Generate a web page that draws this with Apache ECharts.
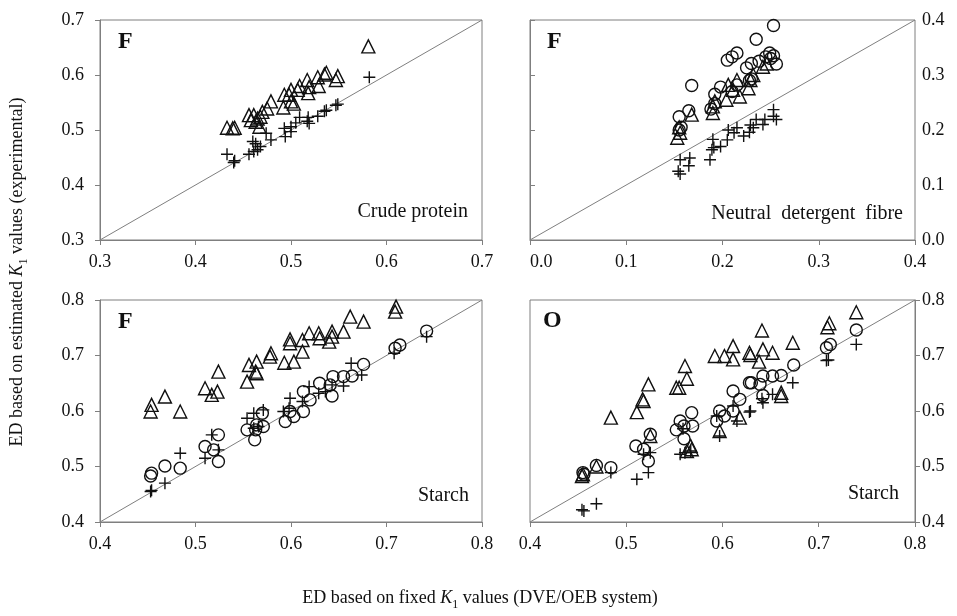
<!DOCTYPE html>
<html>
<head>
<meta charset="utf-8">
<script src="https://cdn.jsdelivr.net/npm/echarts@6/dist/echarts.min.js"></script>
<style>
  html, body { margin: 0; padding: 0; background: #fff; }
  #main { width: 957px; height: 616px; }
</style>
</head>
<body>
<div id="main"></div>
<script>
// axis ranges [min, max, interval]
var cpRange = [0.3, 0.7, 0.1];
var ndfRange = [0.0, 0.4, 0.1];
var starchRange = [0.4, 0.8, 0.1];

// Crude protein (F)
var cpTriangle = [
  [0.581, 0.652], [0.537, 0.604], [0.535, 0.601], [0.549, 0.598], [0.547, 0.591],
  [0.528, 0.596], [0.529, 0.580], [0.517, 0.591], [0.519, 0.578], [0.518, 0.567],
  [0.509, 0.580], [0.507, 0.573], [0.500, 0.573], [0.498, 0.564], [0.493, 0.564],
  [0.492, 0.541], [0.500, 0.552], [0.503, 0.548], [0.479, 0.552], [0.475, 0.539],
  [0.470, 0.533], [0.456, 0.527], [0.461, 0.527], [0.465, 0.521], [0.458, 0.518],
  [0.467, 0.506], [0.433, 0.504], [0.441, 0.504], [0.439, 0.503], [0.463, 0.515],
  [0.468, 0.524]
];
var cpPlus = [
  [0.582, 0.596], [0.549, 0.547], [0.547, 0.545], [0.537, 0.536], [0.535, 0.534],
  [0.528, 0.525], [0.518, 0.523], [0.519, 0.512], [0.517, 0.516], [0.509, 0.523],
  [0.505, 0.513], [0.500, 0.506], [0.493, 0.503], [0.500, 0.497], [0.494, 0.488],
  [0.479, 0.482], [0.474, 0.494], [0.468, 0.470], [0.461, 0.461], [0.456, 0.456],
  [0.465, 0.464], [0.460, 0.479], [0.463, 0.475], [0.433, 0.456], [0.440, 0.441],
  [0.441, 0.444]
];

// Neutral detergent fibre (F)
var ndfCircle = [
  [0.253, 0.390], [0.235, 0.365], [0.205, 0.327], [0.210, 0.333], [0.215, 0.340],
  [0.168, 0.281], [0.198, 0.278], [0.192, 0.265], [0.188, 0.238], [0.165, 0.235],
  [0.155, 0.224], [0.157, 0.205], [0.155, 0.200], [0.225, 0.313], [0.230, 0.321],
  [0.238, 0.325], [0.245, 0.333], [0.249, 0.340], [0.253, 0.335], [0.256, 0.320],
  [0.250, 0.330], [0.230, 0.293], [0.228, 0.290], [0.210, 0.270], [0.215, 0.282],
  [0.192, 0.248]
];
var ndfTriangle = [
  [0.153, 0.186], [0.156, 0.195], [0.168, 0.228], [0.190, 0.231], [0.190, 0.243],
  [0.204, 0.255], [0.215, 0.291], [0.218, 0.261], [0.211, 0.273], [0.227, 0.276],
  [0.229, 0.291], [0.242, 0.315], [0.246, 0.321], [0.206, 0.282], [0.155, 0.205],
  [0.192, 0.252], [0.232, 0.300]
];
var ndfPlus = [
  [0.253, 0.237], [0.253, 0.225], [0.256, 0.219], [0.244, 0.219], [0.242, 0.210],
  [0.235, 0.219], [0.232, 0.204], [0.229, 0.209], [0.222, 0.189], [0.215, 0.204],
  [0.212, 0.195], [0.206, 0.200], [0.205, 0.182], [0.198, 0.170], [0.190, 0.183],
  [0.189, 0.164], [0.187, 0.146], [0.166, 0.149], [0.165, 0.135], [0.156, 0.146],
  [0.154, 0.125], [0.156, 0.120], [0.191, 0.168], [0.228, 0.196]
];

// Starch (F)
var stFCircle = [
  [0.742, 0.744], [0.714, 0.719], [0.709, 0.713], [0.676, 0.684], [0.664, 0.663],
  [0.655, 0.662], [0.644, 0.662], [0.643, 0.627], [0.641, 0.647], [0.630, 0.650],
  [0.620, 0.620], [0.613, 0.635], [0.613, 0.599], [0.603, 0.590], [0.599, 0.599],
  [0.594, 0.581], [0.570, 0.596], [0.571, 0.572], [0.564, 0.575], [0.563, 0.566],
  [0.554, 0.566], [0.562, 0.548], [0.524, 0.557], [0.524, 0.509], [0.519, 0.530],
  [0.510, 0.536], [0.484, 0.497], [0.468, 0.501], [0.454, 0.488], [0.453, 0.483]
];
var stFTriangle = [
  [0.710, 0.788], [0.709, 0.779], [0.662, 0.770], [0.676, 0.761], [0.655, 0.743],
  [0.643, 0.743], [0.643, 0.734], [0.640, 0.725], [0.629, 0.740], [0.630, 0.731],
  [0.619, 0.740], [0.612, 0.728], [0.612, 0.707], [0.599, 0.729], [0.599, 0.722],
  [0.603, 0.689], [0.593, 0.687], [0.579, 0.704], [0.578, 0.698], [0.564, 0.689],
  [0.556, 0.683], [0.563, 0.671], [0.564, 0.668], [0.554, 0.653], [0.524, 0.671],
  [0.510, 0.641], [0.517, 0.629], [0.523, 0.635], [0.468, 0.626], [0.454, 0.611],
  [0.453, 0.599], [0.484, 0.599]
];
var stFPlus = [
  [0.742, 0.734], [0.708, 0.704], [0.674, 0.665], [0.663, 0.686], [0.655, 0.645],
  [0.643, 0.647], [0.636, 0.635], [0.629, 0.632], [0.619, 0.644], [0.612, 0.617],
  [0.599, 0.623], [0.598, 0.605], [0.592, 0.599], [0.571, 0.602], [0.561, 0.596],
  [0.554, 0.587], [0.561, 0.569], [0.566, 0.572], [0.517, 0.557], [0.524, 0.530],
  [0.510, 0.515], [0.484, 0.524], [0.468, 0.470], [0.453, 0.455], [0.454, 0.457]
];

// Starch (O)
var stOCircle = [
  [0.739, 0.746], [0.712, 0.720], [0.708, 0.714], [0.674, 0.683], [0.661, 0.664],
  [0.652, 0.663], [0.642, 0.663], [0.639, 0.648], [0.642, 0.628], [0.628, 0.651],
  [0.630, 0.651], [0.618, 0.621], [0.611, 0.636], [0.611, 0.600], [0.597, 0.600],
  [0.602, 0.591], [0.594, 0.582], [0.568, 0.597], [0.569, 0.573], [0.560, 0.573],
  [0.556, 0.582], [0.552, 0.566], [0.560, 0.550], [0.525, 0.558], [0.523, 0.510],
  [0.518, 0.531], [0.510, 0.537], [0.484, 0.498], [0.469, 0.502], [0.455, 0.489],
  [0.456, 0.486]
];
var stOTriangle = [
  [0.739, 0.778], [0.711, 0.758], [0.709, 0.751], [0.673, 0.723], [0.652, 0.705],
  [0.642, 0.711], [0.641, 0.745], [0.638, 0.689], [0.628, 0.705], [0.629, 0.701],
  [0.611, 0.717], [0.611, 0.693], [0.602, 0.699], [0.592, 0.699], [0.561, 0.681],
  [0.563, 0.658], [0.555, 0.642], [0.552, 0.642], [0.523, 0.648], [0.517, 0.621],
  [0.518, 0.618], [0.511, 0.598], [0.484, 0.588], [0.661, 0.633], [0.661, 0.627],
  [0.618, 0.588], [0.597, 0.564], [0.567, 0.537], [0.568, 0.531], [0.563, 0.528],
  [0.525, 0.555], [0.469, 0.500], [0.455, 0.486], [0.454, 0.483]
];
var stOPlus = [
  [0.739, 0.720], [0.710, 0.692], [0.708, 0.691], [0.673, 0.651], [0.652, 0.630],
  [0.642, 0.615], [0.641, 0.622], [0.628, 0.598], [0.629, 0.600], [0.615, 0.582],
  [0.611, 0.609], [0.597, 0.555], [0.594, 0.591], [0.567, 0.528], [0.561, 0.525],
  [0.556, 0.522], [0.559, 0.568], [0.525, 0.525], [0.518, 0.522], [0.523, 0.489],
  [0.511, 0.477], [0.484, 0.489], [0.469, 0.433], [0.454, 0.422], [0.456, 0.420]
];

var serif = "'Liberation Serif', 'Times New Roman', serif";
var axisGray = '#7f7f7f';

var myChart = echarts.init(document.getElementById('main'));

var grids = [
  { left: 100, top: 20, width: 382, height: 220 },
  { left: 530, top: 20, width: 385, height: 220 },
  { left: 100, top: 300, width: 382, height: 222 },
  { left: 530, top: 300, width: 385, height: 222 }
];
var ranges = [cpRange, ndfRange, starchRange, starchRange];

function makeAxis(i, dim) {
  var r = ranges[i];
  var ax = {
    type: 'value',
    gridIndex: i,
    min: r[0],
    max: r[1],
    interval: r[2],
    axisLine: { show: true, lineStyle: { color: axisGray, width: 1 } },
    axisTick: { show: true, length: 5, lineStyle: { color: axisGray } },
    splitLine: { show: false },
    axisLabel: {
      color: '#111',
      fontFamily: serif,
      fontSize: 18,
      formatter: function (v) { return v.toFixed(1); }
    }
  };
  if (dim === 'x') {
    ax.axisLabel.margin = 13;
    // the first label of the fibre panel sits right of its tick
    if (i === 1) ax.axisLabel.alignMinLabel = 'left';
  } else {
    ax.position = (i % 2 === 1) ? 'right' : 'left';
    ax.axisLabel.margin = (i % 2 === 1) ? 7 : 16;
  }
  return ax;
}

var sym = {
  triangle: { symbol: 'triangle', symbolSize: 13 },
  circle: { symbol: 'circle', symbolSize: 12 },
  plus: { symbol: 'path://M5,0V10M0,5H10', symbolSize: 12 }
};

function scatter(i, data, kind) {
  return {
    type: 'scatter',
    xAxisIndex: i,
    yAxisIndex: i,
    data: data,
    symbol: sym[kind].symbol,
    symbolSize: sym[kind].symbolSize,
    silent: true,
    itemStyle: { color: 'transparent', borderColor: '#111', borderWidth: 1.4, opacity: 1 }
  };
}

function diagonal(i) {
  var r = ranges[i];
  return {
    type: 'line',
    xAxisIndex: i,
    yAxisIndex: i,
    data: [[r[0], r[0]], [r[1], r[1]]],
    symbol: 'none',
    silent: true,
    lineStyle: { color: axisGray, width: 1 },
    z: 1
  };
}

function label(x, y, text, opts) {
  return {
    type: 'text',
    x: x,
    y: y,
    silent: true,
    style: Object.assign({
      text: text,
      fill: '#111',
      fontFamily: serif,
      fontSize: 20,
      verticalAlign: 'middle'
    }, opts || {})
  };
}

var titleRich = {
  n: { fontFamily: serif, fontSize: 18, lineHeight: 22, verticalAlign: 'top', fill: '#111' },
  i: { fontStyle: 'italic', fontFamily: serif, fontSize: 18, lineHeight: 22, verticalAlign: 'top', fill: '#111' },
  s: { fontFamily: serif, fontSize: 12, verticalAlign: 'top', padding: [10, 0, 0, 0], fill: '#111' }
};

function axisTitle(x, y, before, after, rot) {
  return {
    type: 'text',
    x: x,
    y: y,
    rotation: rot,
    silent: true,
    style: {
      text: '{n|' + before + '}{i|K}{s|1}{n|' + after + '}',
      rich: titleRich,
      align: 'center',
      verticalAlign: 'middle'
    }
  };
}

myChart.setOption({
  animation: false,
  grid: grids.map(function (g) {
    return Object.assign({ show: true, borderColor: axisGray, borderWidth: 1, backgroundColor: 'transparent' }, g);
  }),
  xAxis: [0, 1, 2, 3].map(function (i) { return makeAxis(i, 'x'); }),
  yAxis: [0, 1, 2, 3].map(function (i) { return makeAxis(i, 'y'); }),
  series: [
    diagonal(0), diagonal(1), diagonal(2), diagonal(3),
    scatter(0, cpTriangle, 'triangle'),
    scatter(0, cpPlus, 'plus'),
    scatter(1, ndfCircle, 'circle'),
    scatter(1, ndfTriangle, 'triangle'),
    scatter(1, ndfPlus, 'plus'),
    scatter(2, stFCircle, 'circle'),
    scatter(2, stFTriangle, 'triangle'),
    scatter(2, stFPlus, 'plus'),
    scatter(3, stOCircle, 'circle'),
    scatter(3, stOTriangle, 'triangle'),
    scatter(3, stOPlus, 'plus')
  ],
  graphic: [
    label(118, 42, 'F', { fontSize: 24, fontWeight: 'bold' }),
    label(547, 42, 'F', { fontSize: 24, fontWeight: 'bold' }),
    label(118, 322, 'F', { fontSize: 24, fontWeight: 'bold' }),
    label(543, 321, 'O', { fontSize: 24, fontWeight: 'bold' }),
    label(468, 212, 'Crude protein', { align: 'right' }),
    label(903, 214, 'Neutral  detergent  fibre', { align: 'right' }),
    label(469, 496, 'Starch', { align: 'right' }),
    label(899, 494, 'Starch', { align: 'right' }),
    axisTitle(480, 600, 'ED based on fixed ', ' values (DVE/OEB system)', 0),
    axisTitle(19, 272, 'ED based on estimated ', ' values (experimental)', Math.PI / 2)
  ]
});
</script>
</body>
</html>
